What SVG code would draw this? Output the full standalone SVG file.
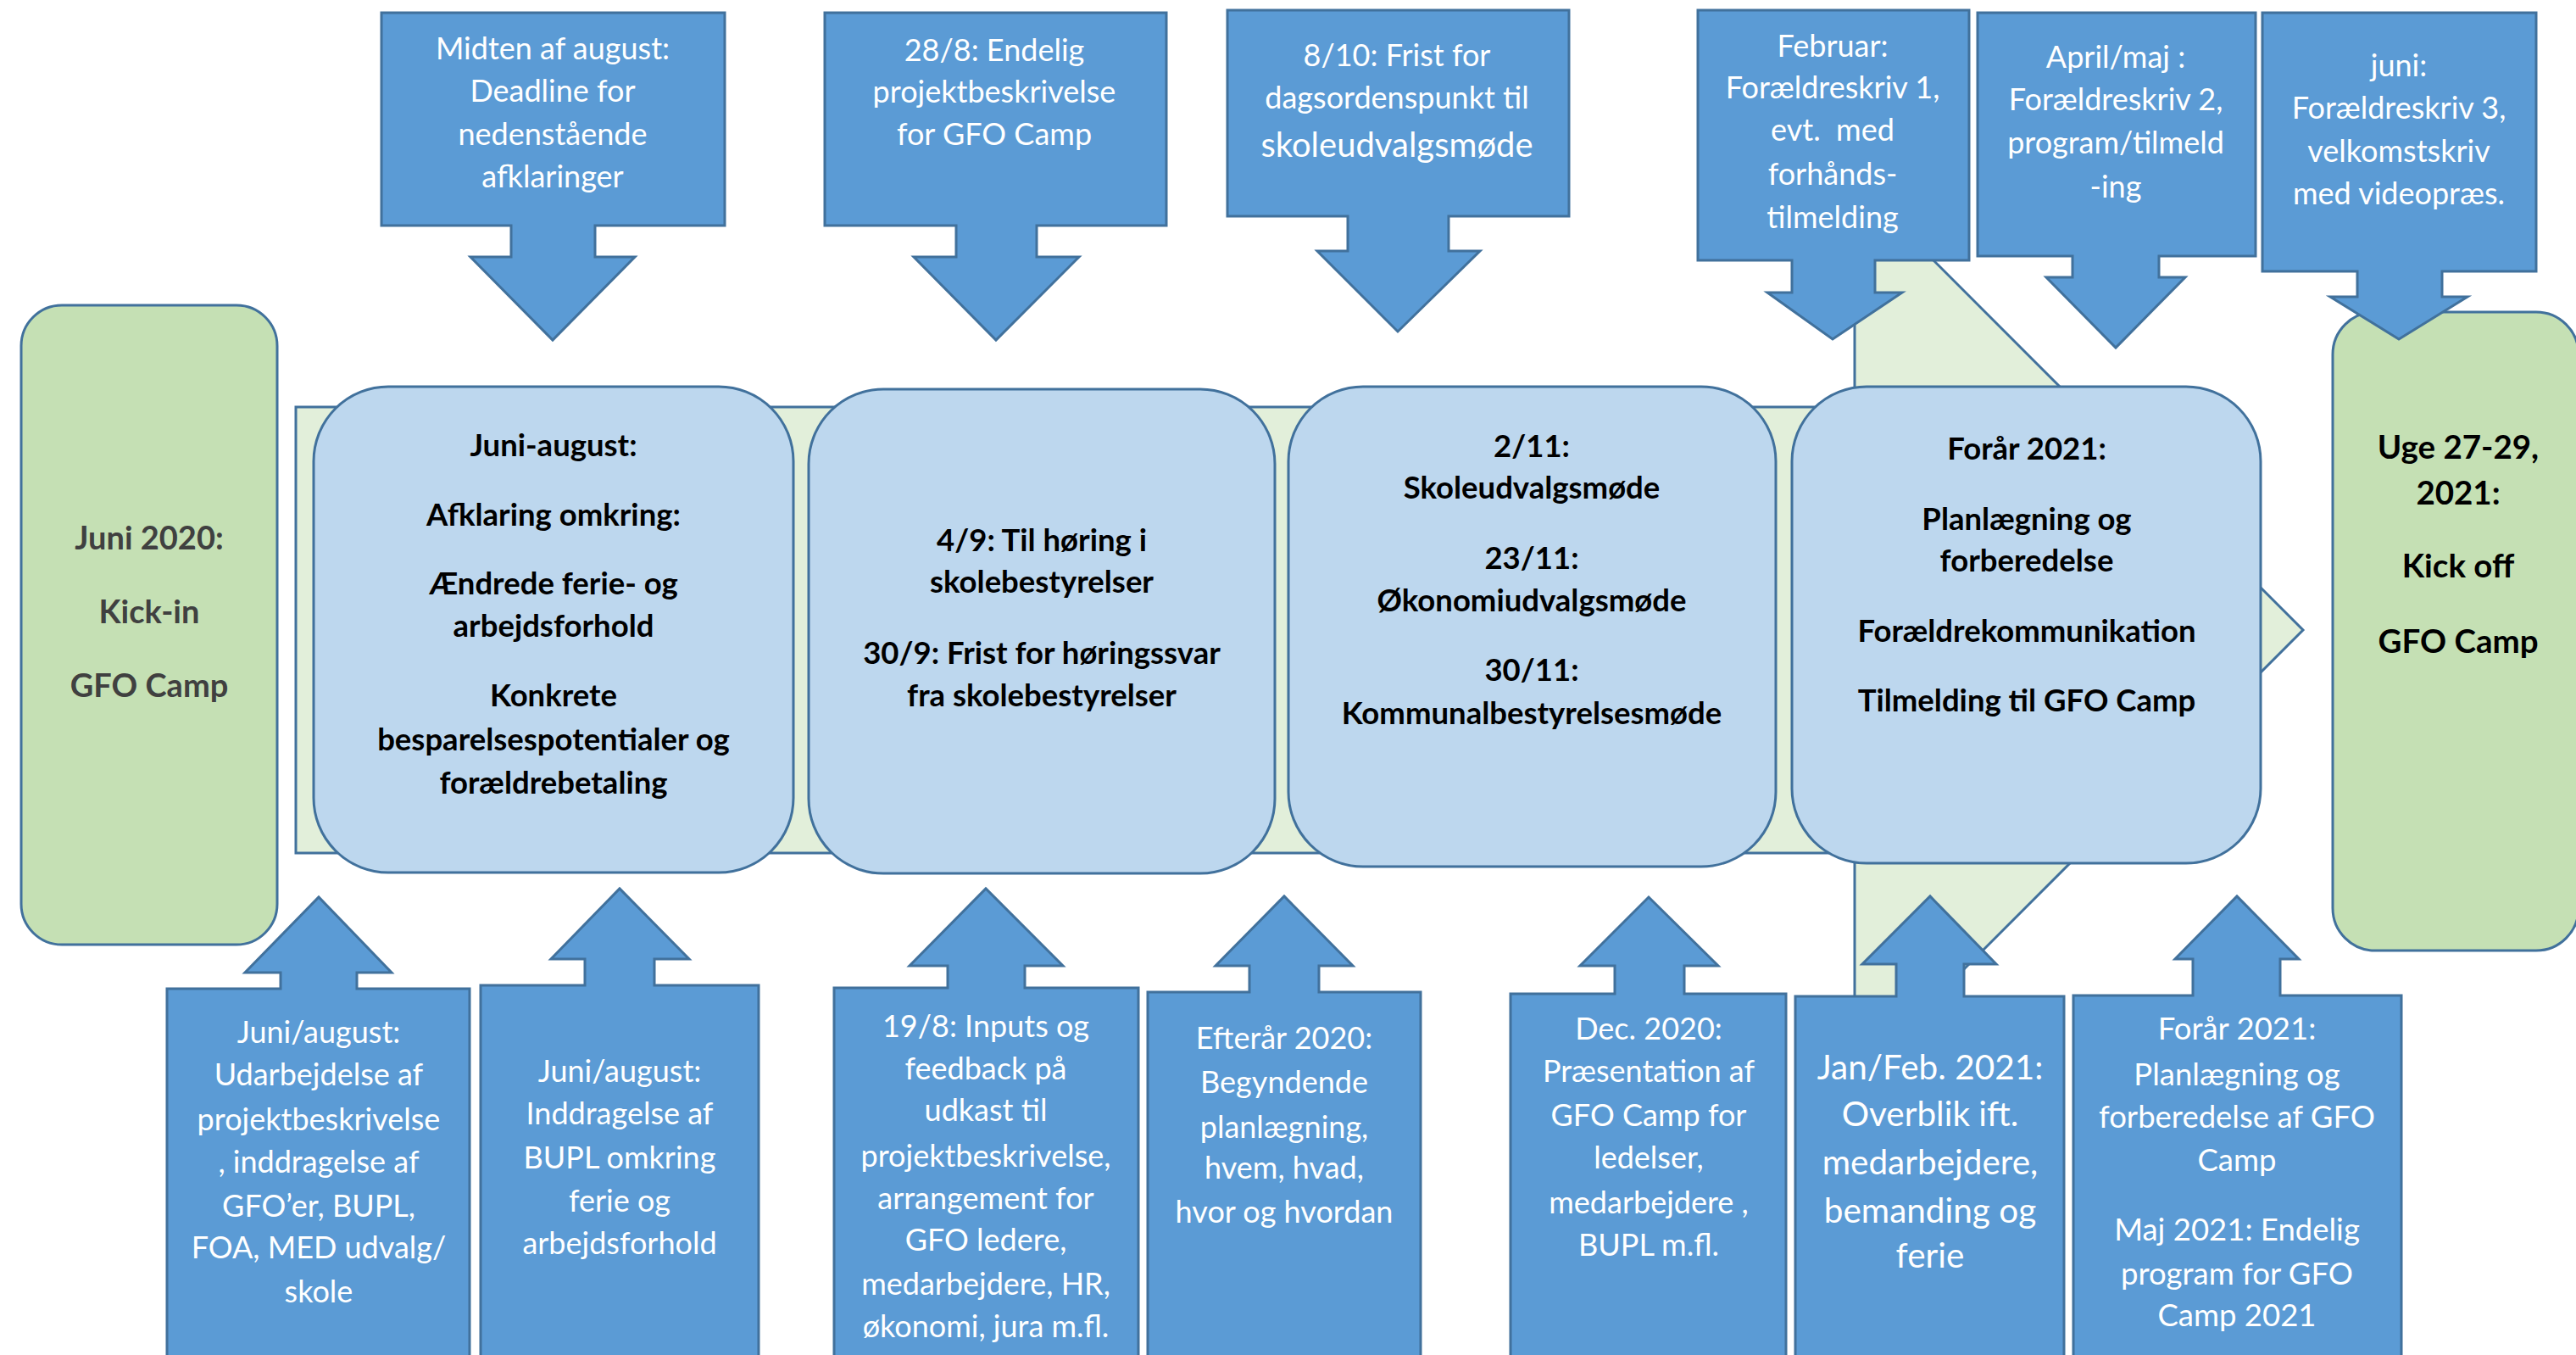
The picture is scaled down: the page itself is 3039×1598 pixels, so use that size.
<svg xmlns="http://www.w3.org/2000/svg" width="3039" height="1598" viewBox="0 0 3039 1598">
<style>
.call{fill:#5b9bd5;stroke:#41719c;stroke-width:3;stroke-linejoin:miter}
.rbox{fill:#bdd7ee;stroke:#41719c;stroke-width:3}
.gbox{fill:#c5e0b4;stroke:#41719c;stroke-width:3}
.big{fill:#e2efda;stroke:#41719c;stroke-width:3}
.wt{font-family:Lato,"Liberation Sans",sans-serif;font-size:36px;fill:#ffffff;text-anchor:middle}
.bt{font-family:Lato,"Liberation Sans",sans-serif;font-size:36.5px;font-weight:bold;fill:#000000;text-anchor:middle}
</style>
<rect width="3039" height="1598" fill="#ffffff"/>
<g id="connectors">
<path id="timeline" class="big" d="M349,480 H2188 V214 L2717,743 L2188,1272 V1006 H349 Z"/>
</g>
<g id="start">
<rect class="gbox" x="25" y="360" width="302" height="754" rx="48"/>
<text class="bt" style="fill:#404040;font-size:38px"><tspan x="176" y="648">Juni 2020:</tspan><tspan x="176" y="735">Kick-in</tspan><tspan x="176" y="822">GFO Camp</tspan></text>
</g>
<g id="phase1">
<rect class="rbox" x="370" y="456" width="566" height="573" rx="88"/>
<text class="bt"><tspan x="653" y="538">Juni-august:</tspan><tspan x="653" y="620">Afklaring omkring:</tspan><tspan x="653" y="701">Ændrede ferie- og</tspan><tspan x="653" y="751">arbejdsforhold</tspan><tspan x="653" y="833">Konkrete</tspan><tspan x="653" y="885">besparelsespotentialer og</tspan><tspan x="653" y="936">forældrebetaling</tspan></text>
</g>
<g id="phase2">
<rect class="rbox" x="954" y="459" width="550" height="571" rx="88"/>
<text class="bt"><tspan x="1229" y="650">4/9: Til høring i</tspan><tspan x="1229" y="699">skolebestyrelser</tspan><tspan x="1229" y="783">30/9: Frist for høringssvar</tspan><tspan x="1229" y="833">fra skolebestyrelser</tspan></text>
</g>
<g id="phase3">
<rect class="rbox" x="1520" y="456" width="575" height="566" rx="88"/>
<text class="bt"><tspan x="1807" y="539">2/11:</tspan><tspan x="1807" y="588">Skoleudvalgsmøde</tspan><tspan x="1807" y="671">23/11:</tspan><tspan x="1807" y="721">Økonomiudvalgsmøde</tspan><tspan x="1807" y="803">30/11:</tspan><tspan x="1807" y="854">Kommunalbestyrelsesmøde</tspan></text>
</g>
<g id="phase4">
<rect class="rbox" x="2114" y="456" width="553" height="562" rx="88"/>
<text class="bt"><tspan x="2391" y="542">Forår 2021:</tspan><tspan x="2391" y="625">Planlægning og</tspan><tspan x="2391" y="674">forberedelse</tspan><tspan x="2391" y="757">Forældrekommunikation</tspan><tspan x="2391" y="839">Tilmelding til GFO Camp</tspan></text>
</g>
<g id="end">
<rect class="gbox" x="2752" y="368" width="290" height="753" rx="50"/>
<text class="bt" style="font-size:38.5px"><tspan x="2900" y="541">Uge 27-29,</tspan><tspan x="2900" y="595">2021:</tspan><tspan x="2900" y="681">Kick off</tspan><tspan x="2900" y="770">GFO Camp</tspan></text>
</g>
<g id="top1">
<path class="call" d="M450,15 H855 V266 H702 V303 H749 L652,401 L555,303 H603 V266 H450 Z"/>
<text class="wt"><tspan x="652" y="70">Midten af august:</tspan><tspan x="652" y="120">Deadline for</tspan><tspan x="652" y="171">nedenstående</tspan><tspan x="652" y="221">afklaringer</tspan></text>
</g>
<g id="top2">
<path class="call" d="M973,15 H1376 V266 H1223 V303 H1273 L1175,401 L1078,303 H1128 V266 H973 Z"/>
<text class="wt"><tspan x="1173" y="72">28/8: Endelig</tspan><tspan x="1173" y="121">projektbeskrivelse</tspan><tspan x="1173" y="171">for GFO Camp</tspan></text>
</g>
<g id="top3">
<path class="call" d="M1448,12 H1851 V255 H1709 V296 H1746 L1649,391 L1554,296 H1590 V255 H1448 Z"/>
<text class="wt"><tspan x="1648" y="78">8/10: Frist for</tspan><tspan x="1648" y="128">dagsordenspunkt til</tspan><tspan x="1648" y="185" style="font-size:40px">skoleudvalgsmøde</tspan></text>
</g>
<g id="top4">
<path class="call" d="M2003,12 H2323 V307 H2212 V345 H2244 L2162,400 L2085,345 H2114 V307 H2003 Z"/>
<text class="wt"><tspan x="2162" y="67">Februar:</tspan><tspan x="2162" y="116">Forældreskriv 1,</tspan><tspan x="2162" y="166">evt.&#160; med</tspan><tspan x="2162" y="218">forhånds-</tspan><tspan x="2162" y="269">tilmelding</tspan></text>
</g>
<g id="top5">
<path class="call" d="M2333,15 H2661 V302 H2547 V327 H2578 L2496,410 L2414,327 H2445 V302 H2333 Z"/>
<text class="wt"><tspan x="2496" y="80">April/maj :</tspan><tspan x="2496" y="130">Forældreskriv 2,</tspan><tspan x="2496" y="181">program/tilmeld</tspan><tspan x="2496" y="233">-ing</tspan></text>
</g>
<g id="top6">
<path class="call" d="M2669,15 H2992 V320 H2881 V350 H2911 L2830,400 L2749,350 H2781 V320 H2669 Z"/>
<text class="wt"><tspan x="2830" y="90">juni:</tspan><tspan x="2830" y="140">Forældreskriv 3,</tspan><tspan x="2830" y="191">velkomstskriv</tspan><tspan x="2830" y="241">med videopræs.</tspan></text>
</g>
<g id="bottom1">
<path class="call" d="M197,1610 V1166 H331 V1147 H289 L376,1058 L462,1147 H421 V1166 H554 V1610 Z"/>
<text class="wt"><tspan x="376" y="1230">Juni/august:</tspan><tspan x="376" y="1280">Udarbejdelse af</tspan><tspan x="376" y="1333">projektbeskrivelse</tspan><tspan x="376" y="1383">, inddragelse af</tspan><tspan x="376" y="1435">GFO’er, BUPL,</tspan><tspan x="376" y="1484">FOA, MED udvalg/</tspan><tspan x="376" y="1536">skole</tspan></text>
</g>
<g id="bottom2">
<path class="call" d="M567,1610 V1162 H690 V1131 H650 L731,1048 L813,1131 H772 V1162 H895 V1610 Z"/>
<text class="wt"><tspan x="731" y="1276">Juni/august:</tspan><tspan x="731" y="1326">Inddragelse af</tspan><tspan x="731" y="1378">BUPL omkring</tspan><tspan x="731" y="1429">ferie og</tspan><tspan x="731" y="1479">arbejdsforhold</tspan></text>
</g>
<g id="bottom3">
<path class="call" d="M984,1610 V1165 H1118 V1139 H1073 L1163,1048 L1254,1139 H1209 V1165 H1343 V1610 Z"/>
<text class="wt"><tspan x="1163" y="1223">19/8: Inputs og</tspan><tspan x="1163" y="1273">feedback på</tspan><tspan x="1163" y="1322">udkast til</tspan><tspan x="1163" y="1376">projektbeskrivelse,</tspan><tspan x="1163" y="1426">arrangement for</tspan><tspan x="1163" y="1475">GFO ledere,</tspan><tspan x="1163" y="1527">medarbejdere, HR,</tspan><tspan x="1163" y="1577">økonomi, jura m.fl.</tspan></text>
</g>
<g id="bottom4">
<path class="call" d="M1354,1610 V1170 H1474 V1139 H1434 L1515,1057 L1596,1139 H1556 V1170 H1676 V1610 Z"/>
<text class="wt"><tspan x="1515" y="1237">Efterår 2020:</tspan><tspan x="1515" y="1289">Begyndende</tspan><tspan x="1515" y="1342">planlægning,</tspan><tspan x="1515" y="1390">hvem, hvad,</tspan><tspan x="1515" y="1442">hvor og hvordan</tspan></text>
</g>
<g id="bottom5">
<path class="call" d="M1782,1610 V1172 H1905 V1139 H1864 L1945,1058 L2027,1139 H1987 V1172 H2107 V1610 Z"/>
<text class="wt"><tspan x="1945" y="1226">Dec. 2020:</tspan><tspan x="1945" y="1276">Præsentation af</tspan><tspan x="1945" y="1328">GFO Camp for</tspan><tspan x="1945" y="1378">ledelser,</tspan><tspan x="1945" y="1431">medarbejdere ,</tspan><tspan x="1945" y="1481">BUPL m.fl.</tspan></text>
</g>
<g id="bottom6">
<path class="call" d="M2118,1610 V1175 H2237 V1137 H2197 L2277,1057 L2355,1137 H2317 V1175 H2435 V1610 Z"/>
<text class="wt" style="font-size:40.5px"><tspan x="2277" y="1273">Jan/Feb. 2021:</tspan><tspan x="2277" y="1328">Overblik ift.</tspan><tspan x="2277" y="1385">medarbejdere,</tspan><tspan x="2277" y="1442">bemanding og</tspan><tspan x="2277" y="1495">ferie</tspan></text>
</g>
<g id="bottom7">
<path class="call" d="M2446,1610 V1174 H2587 V1131 H2566 L2639,1057 L2712,1131 H2690 V1174 H2833 V1610 Z"/>
<text class="wt" style="font-size:36.5px"><tspan x="2639" y="1226">Forår 2021:</tspan><tspan x="2639" y="1280">Planlægning og</tspan><tspan x="2639" y="1330">forberedelse af GFO</tspan><tspan x="2639" y="1381">Camp</tspan><tspan x="2639" y="1463">Maj 2021: Endelig</tspan><tspan x="2639" y="1515">program for GFO</tspan><tspan x="2639" y="1564">Camp 2021</tspan></text>
</g>
</svg>
